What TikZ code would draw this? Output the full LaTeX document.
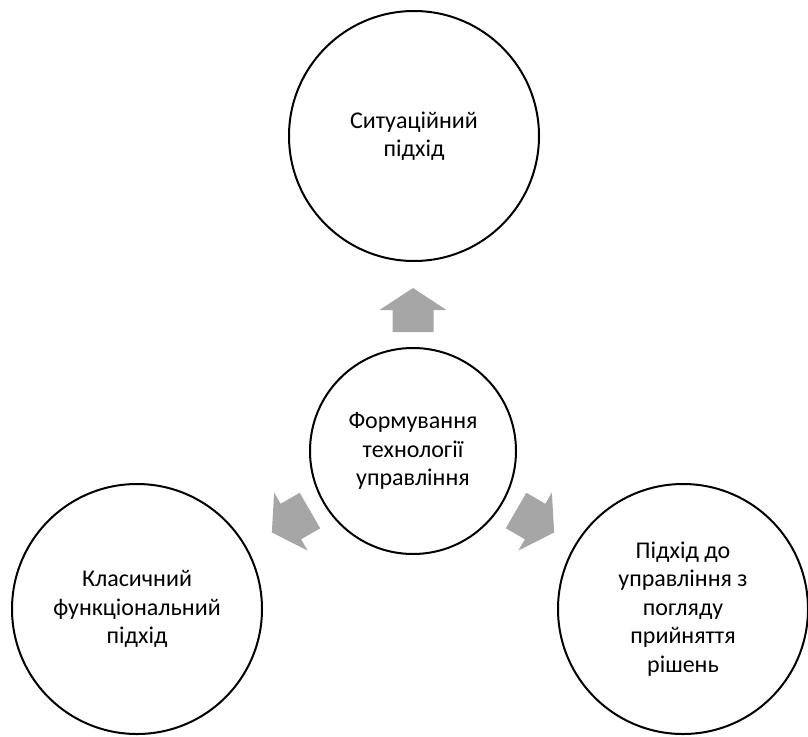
\documentclass[tikz,border=0pt]{standalone}
\usepackage{fontspec}
\setmainfont{Carlito}
\usetikzlibrary{calc}
\definecolor{arrowgray}{RGB}{166,166,166}
\tikzset{
  circ/.style={circle, draw=black, line width=2pt, fill=white, inner sep=0pt,
    align=center, font=\fontsize{24}{28.5}\selectfont},
  outer/.style={circ, minimum size=250pt},
  hub/.style={circ, minimum size=206pt},
  blockarrow/.pic={
    \fill[arrowgray] (-20.5,-22) -- (20.5,-22) -- (20.5,0) -- (33.5,0)
      -- (0,22) -- (-33.5,0) -- (-20.5,0) -- cycle;
  }
}
\begin{document}
\begin{tikzpicture}[x=1pt,y=1pt]
  \useasboundingbox (0,0) rectangle (808,-736);
  % hub and the three approaches around it
  \node[hub] (core) at (413,-451) {Формування\\технології\\управління};
  \node[outer] (situational) at (414,-136) {Ситуаційний\\підхід};
  \node[outer] (classic) at (137,-609) {Класичний\\функціональний\\підхід};
  \node[outer] (decision) at (683,-609) {Підхід до\\управління з\\погляду\\прийняття\\рішень};
  % outward block arrows between the hub and each approach
  \pic[rotate=0] (upArrow) at ($(core)+(90:141)$) {blockarrow};
  \pic[rotate=120] (leftArrow) at ($(core)+(210:141)$) {blockarrow};
  \pic[rotate=240] (rightArrow) at ($(core)+(330:141)$) {blockarrow};
\end{tikzpicture}
\end{document}
